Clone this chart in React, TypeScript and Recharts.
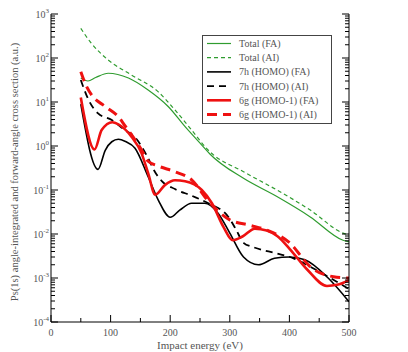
import React from 'react';
import { LineChart, Line, XAxis, YAxis, Legend } from 'recharts';

// ---- data ----
const totalFA_x = [50, 62, 75, 96, 130, 163, 197, 225, 253, 267, 323, 379, 435, 490, 500];
const totalFA_y = [35, 30, 36, 45, 35, 18.7, 7.8, 2.75, 1.05, 0.65, 0.184, 0.071, 0.0245, 0.0072, 0.0066];

const totalAI_x = [50, 68, 96, 135, 180, 208, 236, 264, 323, 379, 435, 490, 500];
const totalAI_y = [470, 214, 90, 41, 17, 6.6, 2.3, 0.8, 0.26, 0.1, 0.035, 0.0105, 0.0095];

const homoFA_x = [50, 79, 91, 102, 113, 125, 141, 163, 180, 200, 216, 236, 258, 280, 300, 323, 348, 375, 400, 426, 465, 500];
const homoFA_y = [8.9, 0.295, 0.8, 1.25, 1.42, 1.26, 0.89, 0.2, 0.059, 0.024, 0.035, 0.05, 0.05, 0.03, 0.0105, 0.003, 0.002, 0.0028, 0.003, 0.0026, 0.001, 0.00029];

const homoAI_x = [50, 63, 79, 102, 124, 141, 160, 175, 186, 208, 236, 264, 297, 310, 323, 340, 379, 407, 435, 465, 500];
const homoAI_y = [31.6, 11.2, 5.5, 3.9, 2.3, 1.58, 0.63, 0.25, 0.16, 0.105, 0.074, 0.05, 0.025, 0.013, 0.0063, 0.005, 0.0036, 0.0028, 0.0018, 0.00107, 0.00056];

const homo1FA_x = [50, 73, 85, 103, 115, 135, 152, 163, 175, 191, 208, 225, 253, 270, 290, 305, 322, 342, 362, 380, 401, 429, 463, 480, 500];
const homo1FA_y = [12.6, 0.83, 2.3, 3.47, 3.0, 1.62, 0.68, 0.24, 0.078, 0.129, 0.166, 0.158, 0.1, 0.05, 0.014, 0.0072, 0.0089, 0.0132, 0.012, 0.0089, 0.0045, 0.0016, 0.00066, 0.0007, 0.00089];

const homo1AI_x = [50, 60, 68, 91, 115, 124, 141, 152, 163, 180, 208, 236, 264, 300, 334, 362, 401, 435, 474, 500];
const homo1AI_y = [49, 22, 14.5, 7.9, 4.3, 2.9, 1.38, 0.81, 0.45, 0.35, 0.26, 0.17, 0.056, 0.021, 0.0158, 0.0123, 0.0062, 0.0018, 0.00107, 0.001];

const seriesNames = ['Total (FA)', 'Total (AI)', '7h (HOMO) (FA)', '7h (HOMO) (AI)', '6g (HOMO-1) (FA)', '6g (HOMO-1) (AI)'];

const xTicks = [0, 50, 100, 150, 200, 250, 300, 350, 400, 450, 500];
const xTickLabels = ['0', '100', '200', '300', '400', '500'];
const yDecades = [-4, -3, -2, -1, 0, 1, 2, 3];

const xLabel = 'Impact energy (eV)';
const yLabel = 'Ps(1s) angle-integrated and forward-angle cross section (a.u.)';

// ---- styles ----
const FONT = '"Liberation Serif", "Times New Roman", serif';
const TEXT = '#555';
const GREEN = '#2f9c2f';
const RED = '#ee1111';

const seriesStyles = [
  { stroke: GREEN, width: 1.2, dash: undefined },
  { stroke: GREEN, width: 1.2, dash: '4 3' },
  { stroke: '#000', width: 1.6, dash: undefined },
  { stroke: '#000', width: 1.8, dash: '7 5' },
  { stroke: RED, width: 2.6, dash: undefined },
  { stroke: RED, width: 3, dash: '10 6' },
];

const zip = (xs: number[], ys: number[]) => xs.map((x, i) => ({ x, y: ys[i] }));
const seriesData = [
  zip(totalFA_x, totalFA_y),
  zip(totalAI_x, totalAI_y),
  zip(homoFA_x, homoFA_y),
  zip(homoAI_x, homoAI_y),
  zip(homo1FA_x, homo1FA_y),
  zip(homo1AI_x, homo1AI_y),
];

const yTicks: number[] = [];
yDecades.forEach((k, i) => {
  if (i === yDecades.length - 1) {
    yTicks.push(Math.pow(10, k));
  } else {
    for (let m = 1; m <= 9; m++) yTicks.push(m * Math.pow(10, k));
  }
});

const exponentOf = (v: number) => Math.round(Math.log10(v));
const isMajorY = (v: number) => Math.abs(Math.log10(v) - exponentOf(v)) < 1e-9;
const isLabeledX = (v: number) => xTickLabels.includes(String(v));

const LeftTick = (props: any) => {
  const { x, y, payload } = props;
  const v = payload.value;
  const major = isMajorY(v);
  return (
    <g>
      <line x1={x} y1={y} x2={x + (major ? 7 : 4)} y2={y} stroke="#000" strokeWidth={1} />
      {major && (
        <text x={x - 2} y={y + 3.5} textAnchor="end" fontSize={10} fill={TEXT} fontFamily={FONT}>
          <tspan>10</tspan>
          <tspan dy={-5} fontSize={7}>{String(exponentOf(v))}</tspan>
        </text>
      )}
    </g>
  );
};

const RightTick = (props: any) => {
  const { x, y, payload } = props;
  const major = isMajorY(payload.value);
  return <line x1={x} y1={y} x2={x - (major ? 7 : 4)} y2={y} stroke="#000" strokeWidth={1} />;
};

const BottomTick = (props: any) => {
  const { x, y, payload } = props;
  const v = payload.value;
  const major = isLabeledX(v);
  return (
    <g>
      <line x1={x} y1={y} x2={x} y2={y - (major ? 7 : 4)} stroke="#000" strokeWidth={1} />
      {major && (
        <text x={x} y={y + 13.5} textAnchor="middle" fontSize={10} fill={TEXT} fontFamily={FONT}>
          {String(v)}
        </text>
      )}
    </g>
  );
};

const TopTick = (props: any) => {
  const { x, y, payload } = props;
  const major = isLabeledX(payload.value);
  return <line x1={x} y1={y} x2={x} y2={y + (major ? 7 : 4)} stroke="#000" strokeWidth={1} />;
};

const YLabel = (props: any) => {
  const vb = props.viewBox || { x: 0, y: 14, width: 51, height: 308 };
  const cx = vb.x + 14;
  const cy = vb.y + vb.height / 2 + 4;
  return (
    <text x={cx} y={cy} transform={`rotate(-90, ${cx}, ${cy})`} textAnchor="middle" dominantBaseline="central" fontSize={10.5} fill={TEXT} fontFamily={FONT}>
      {yLabel}
    </text>
  );
};

const XLabel = (props: any) => {
  const vb = props.viewBox || { x: 51, y: 322, width: 298, height: 30 };
  return (
    <text x={vb.x + vb.width / 2} y={vb.y + 27} textAnchor="middle" fontSize={11} fill={TEXT} fontFamily={FONT}>
      {xLabel}
    </text>
  );
};

const LegendContent = () => (
  <svg width={131} height={90} style={{ display: 'block' }}>
    <rect x={0.5} y={0.5} width={129} height={88} fill="#fff" stroke="#444" strokeWidth={1} />
    {seriesNames.map((name, i) => {
      const s = seriesStyles[i];
      const ry = 8.5 + i * 14.2;
      return (
        <g key={name}>
          <line x1={5} y1={ry} x2={29} y2={ry} stroke={s.stroke} strokeWidth={s.width} strokeDasharray={s.dash} />
          <text x={37} y={ry + 3.5} fontSize={10} fill={TEXT} fontFamily={FONT}>{name}</text>
        </g>
      );
    })}
  </svg>
);

export default function App() {
  return (
    <div style={{ position: 'absolute', left: 0, top: 0, width: 408, height: 352, background: '#fff' }}>
      <LineChart width={408} height={352} margin={{ top: 14, right: 58, bottom: 0, left: 0 }}>
        <XAxis
          xAxisId="b"
          dataKey="x"
          type="number"
          domain={[0, 500]}
          allowDataOverflow
          ticks={xTicks}
          interval={0}
          tick={<BottomTick />}
          tickSize={0}
          tickMargin={0}
          tickLine={false}
          axisLine={{ stroke: '#000', strokeWidth: 1 }}
          height={30}
          label={<XLabel />}
        />
        <XAxis
          xAxisId="t"
          orientation="top"
          dataKey="x"
          type="number"
          domain={[0, 500]}
          allowDataOverflow
          ticks={xTicks}
          interval={0}
          tick={<TopTick />}
          tickSize={0}
          tickMargin={0}
          tickLine={false}
          axisLine={{ stroke: '#000', strokeWidth: 1 }}
          height={0}
        />
        <YAxis
          yAxisId="l"
          type="number"
          scale="log"
          domain={[1e-4, 1e3]}
          allowDataOverflow
          ticks={yTicks}
          interval={0}
          tick={<LeftTick />}
          tickSize={0}
          tickMargin={0}
          tickLine={false}
          axisLine={{ stroke: '#000', strokeWidth: 1 }}
          width={51}
          label={<YLabel />}
        />
        <YAxis
          yAxisId="r"
          orientation="right"
          type="number"
          scale="log"
          domain={[1e-4, 1e3]}
          allowDataOverflow
          ticks={yTicks}
          interval={0}
          tick={<RightTick />}
          tickSize={0}
          tickMargin={0}
          tickLine={false}
          axisLine={{ stroke: '#000', strokeWidth: 1 }}
          width={1}
        />
        <Legend
          layout="vertical"
          align="center"
          verticalAlign="middle"
          width={131}
          height={90}
          wrapperStyle={{ left: 202, top: 35, width: 131, height: 90 }}
          content={<LegendContent />}
        />
        {seriesData.map((d, i) => (
          <Line
            key={seriesNames[i]}
            name={seriesNames[i]}
            data={d}
            dataKey="y"
            xAxisId="b"
            yAxisId="l"
            type="monotone"
            dot={false}
            activeDot={false}
            stroke={seriesStyles[i].stroke}
            strokeWidth={seriesStyles[i].width}
            strokeDasharray={seriesStyles[i].dash}
            isAnimationActive={false}
          />
        ))}
      </LineChart>
    </div>
  );
}
